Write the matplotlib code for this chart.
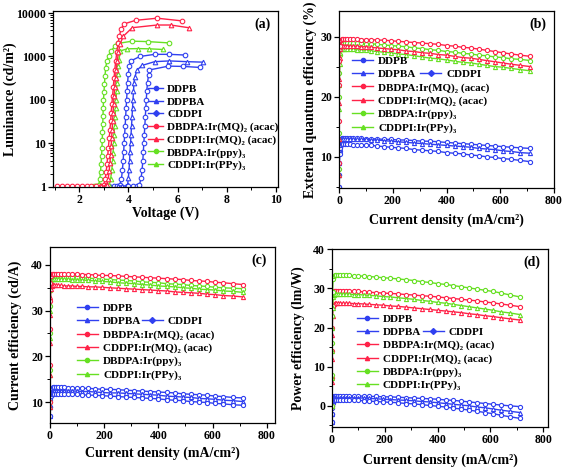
import matplotlib
matplotlib.use('Agg')
import matplotlib.pyplot as plt
from matplotlib.lines import Line2D
from matplotlib.ticker import MultipleLocator, FixedLocator, NullFormatter

plt.rcParams['font.family'] = ['Liberation Serif', 'DejaVu Serif']
plt.rcParams['font.weight'] = 'bold'
plt.rcParams['axes.labelweight'] = 'bold'

RED = '#ff2248'
GREEN = '#66e022'
BLUE = '#3040f0'

labels = ['DDPB', 'DDPBA', 'CDDPI',
          'DBDPA:Ir(MQ)\u2082 (acac)', 'CDDPI:Ir(MQ)\u2082 (acac)',
          'DBDPA:Ir(ppy)\u2083', 'CDDPI:Ir(PPy)\u2083']
colors = [BLUE, BLUE, BLUE, RED, RED, GREEN, GREEN]
markers = ['o', '^', 'D', 'o', '^', 'o', '^']

# ---- (a) luminance vs voltage ----
v_ddpb = [3.2, 3.4, 3.55, 3.65, 3.72, 3.76, 3.79, 3.81, 3.83, 3.85, 3.87, 3.89, 3.91, 3.93, 3.95, 3.97, 4.00, 4.04, 4.10, 4.47, 5.07, 5.67, 6.30]
lum_ddpb = [1.05, 1.05, 1.05, 1.1, 1.5, 2.5, 4, 6.5, 10, 16, 25, 40, 65, 100, 160, 250, 400, 600, 790, 1000, 1120, 1120, 1080]
v_ddpba = [3.6, 3.75, 3.9, 3.97, 4.00, 4.03, 4.05, 4.07, 4.09, 4.11, 4.13, 4.15, 4.17, 4.19, 4.21, 4.23, 4.27, 4.35, 4.55, 5.07, 5.67, 6.37, 7.05]
lum_ddpba = [1.05, 1.05, 1.05, 1.1, 1.6, 2.5, 4, 6.5, 10, 16, 25, 40, 65, 100, 160, 250, 345, 480, 620, 760, 790, 760, 740]
v_cddpi = [4.0, 4.2, 4.35, 4.45, 4.52, 4.56, 4.59, 4.61, 4.63, 4.65, 4.67, 4.69, 4.71, 4.73, 4.75, 4.78, 4.82, 4.86, 5.63, 6.23, 6.91]
lum_cddpi = [1.05, 1.05, 1.05, 1.1, 1.6, 2.5, 4, 6.5, 10, 16, 25, 40, 65, 100, 160, 250, 370, 490, 600, 590, 560]
v_mq_dbdpa = [1.1, 1.3, 1.5, 1.7, 1.9, 2.1, 2.3, 2.5, 2.7, 2.9, 3.00, 3.06, 3.10, 3.13, 3.16, 3.19, 3.22, 3.25, 3.28, 3.30, 3.33, 3.36, 3.39, 3.42, 3.45, 3.49, 3.53, 3.58, 3.64, 3.70, 3.82, 4.30, 5.17, 6.18]
lum_mq_dbdpa = [1.05, 1.05, 1.05, 1.05, 1.05, 1.05, 1.05, 1.05, 1.05, 1.05, 1.1, 1.5, 2.2, 3.3, 5, 8, 13, 20, 32, 50, 80, 125, 200, 320, 500, 800, 1250, 2000, 3000, 4200, 5600, 6800, 7600, 6600]
v_mq_cddpi = [2.9, 3.05, 3.12, 3.18, 3.22, 3.25, 3.28, 3.30, 3.32, 3.34, 3.36, 3.38, 3.40, 3.42, 3.45, 3.48, 3.51, 3.55, 3.60, 3.66, 3.79, 4.16, 5.17, 5.72, 6.45]
lum_mq_cddpi = [1.05, 1.05, 1.1, 1.5, 2.3, 3.5, 5.5, 8.5, 13, 20, 32, 50, 80, 125, 200, 320, 500, 800, 1250, 1900, 2900, 4600, 5300, 5300, 4600]
v_ppy_dbdpa = [2.6, 2.7, 2.80, 2.84, 2.87, 2.89, 2.91, 2.93, 2.94, 2.95, 2.96, 2.97, 2.98, 2.99, 3.01, 3.03, 3.05, 3.08, 3.13, 3.20, 3.30, 3.45, 3.58, 4.16, 4.79, 5.67]
lum_ppy_dbdpa = [1.05, 1.05, 1.1, 1.5, 2.2, 3.3, 5, 8, 12, 18, 28, 42, 65, 100, 150, 230, 350, 550, 800, 1050, 1350, 1700, 2000, 2250, 2200, 2050]
v_ppy_cddpi = [3.0, 3.1, 3.20, 3.28, 3.33, 3.36, 3.38, 3.40, 3.42, 3.44, 3.46, 3.48, 3.50, 3.52, 3.54, 3.56, 3.58, 3.62, 3.67, 3.95, 4.41, 4.86, 5.39]
lum_ppy_cddpi = [1.05, 1.05, 1.1, 1.5, 2.5, 4, 6, 10, 16, 25, 40, 65, 100, 160, 250, 400, 600, 850, 1340, 1500, 1520, 1500, 1450]

# ---- shared current density grid (mA/cm2) for (b), (c), (d) ----
J = [0.05, 0.15, 0.3, 0.6, 1, 2, 4, 7,
     11, 16, 22, 30, 40, 52, 66, 82, 100, 120,
     142, 166, 192, 220, 250, 280, 310, 340, 370, 400,
     430, 460, 490, 520, 550, 580, 610, 640, 675, 712]

# (b) EQE (%)
eqe_ddpb = [1, 3, 5, 7, 9, 11, 12.3, 12.9,
            13.1, 13.1, 13.1, 13.1, 13.1, 13.1, 13.1, 13.1, 13.0, 13.0,
            13.0, 12.9, 12.9, 12.8, 12.8, 12.7, 12.6, 12.6, 12.5, 12.4,
            12.3, 12.2, 12.1, 12.0, 11.9, 11.8, 11.7, 11.6, 11.5, 11.4]
eqe_ddpba = [1, 3, 5, 7, 9, 11, 12.2, 12.8,
             13.0, 13.0, 13.0, 13.0, 13.0, 13.0, 12.9, 12.9, 12.9, 12.8,
             12.8, 12.7, 12.6, 12.5, 12.4, 12.3, 12.2, 12.1, 12.0, 11.9,
             11.8, 11.7, 11.6, 11.4, 11.3, 11.2, 11.0, 10.9, 10.7, 10.6]
eqe_cddpi = [1, 3, 5, 7, 9, 10.5, 11.5, 12.0,
             12.1, 12.1, 12.1, 12.1, 12.1, 12.0, 12.0, 12.0, 11.9, 11.9,
             11.8, 11.7, 11.6, 11.5, 11.4, 11.2, 11.1, 11.0, 10.9, 10.7,
             10.6, 10.5, 10.3, 10.2, 10.0, 9.9, 9.7, 9.6, 9.4, 9.2]
eqe_mq_dbdpa = [3, 9, 16, 22, 26, 28.5, 29.3, 29.5,
                29.6, 29.6, 29.6, 29.6, 29.6, 29.6, 29.6, 29.5, 29.5, 29.5,
                29.4, 29.4, 29.3, 29.2, 29.1, 29.0, 28.9, 28.8, 28.7, 28.5,
                28.4, 28.2, 28.1, 27.9, 27.7, 27.5, 27.3, 27.1, 26.9, 26.7]
eqe_mq_cddpi = [2, 7, 13, 19, 23, 26.5, 28, 28.4,
                28.5, 28.5, 28.5, 28.5, 28.4, 28.4, 28.4, 28.3, 28.3, 28.2,
                28.1, 28.0, 27.9, 27.8, 27.6, 27.5, 27.3, 27.2, 27.0, 26.9,
                26.7, 26.5, 26.4, 26.2, 26.0, 25.8, 25.6, 25.4, 25.2, 25.0]
eqe_ppy_dbdpa = [2, 8, 14, 20, 24, 27, 28.5, 28.9,
                 29.0, 29.0, 29.0, 29.0, 29.0, 28.9, 28.9, 28.9, 28.8, 28.8,
                 28.7, 28.6, 28.5, 28.4, 28.3, 28.1, 28.0, 27.8, 27.7, 27.5,
                 27.4, 27.2, 27.1, 26.9, 26.8, 26.6, 26.5, 26.3, 26.2, 26.0]
eqe_ppy_cddpi = [2, 7, 13, 18, 22, 25.5, 27.3, 27.9,
                 28.0, 28.0, 28.0, 28.0, 27.9, 27.9, 27.8, 27.8, 27.7, 27.6,
                 27.5, 27.4, 27.3, 27.1, 27.0, 26.8, 26.6, 26.4, 26.3, 26.1,
                 25.9, 25.7, 25.6, 25.4, 25.2, 25.0, 24.9, 24.7, 24.5, 24.3]

# (c) current efficiency (cd/A)
ce_ddpb = [1, 3, 5, 7, 9, 11, 12.5, 13.0,
           13.2, 13.2, 13.2, 13.2, 13.2, 13.2, 13.1, 13.1, 13.1, 13.0,
           13.0, 12.9, 12.8, 12.8, 12.7, 12.6, 12.5, 12.4, 12.3, 12.2,
           12.1, 12.0, 11.8, 11.7, 11.6, 11.5, 11.3, 11.2, 11.0, 10.9]
ce_ddpba = [1, 3, 5, 7, 9, 10.5, 12, 12.4,
            12.5, 12.5, 12.5, 12.5, 12.5, 12.5, 12.4, 12.4, 12.4, 12.3,
            12.3, 12.2, 12.1, 12.0, 12.0, 11.9, 11.8, 11.7, 11.6, 11.5,
            11.3, 11.2, 11.1, 11.0, 10.8, 10.7, 10.6, 10.4, 10.3, 10.1]
ce_cddpi = [1, 3, 5, 7, 9, 10.5, 11.4, 11.7,
            11.8, 11.8, 11.8, 11.8, 11.8, 11.8, 11.7, 11.7, 11.7, 11.6,
            11.5, 11.5, 11.4, 11.3, 11.2, 11.1, 11.0, 10.9, 10.8, 10.7,
            10.5, 10.4, 10.3, 10.1, 10.0, 9.9, 9.7, 9.6, 9.4, 9.3]
ce_mq_dbdpa = [3, 10, 18, 26, 32, 36, 37.6, 38.0,
               38.1, 38.1, 38.1, 38.1, 38.1, 38.1, 38.0, 38.0, 38.0, 37.9,
               37.9, 37.8, 37.7, 37.7, 37.6, 37.5, 37.4, 37.3, 37.2, 37.1,
               37.0, 36.9, 36.8, 36.6, 36.5, 36.4, 36.2, 36.1, 35.9, 35.7]
ce_mq_cddpi = [3, 9, 16, 23, 29, 33, 34.8, 35.3,
               35.5, 35.5, 35.5, 35.5, 35.5, 35.4, 35.4, 35.4, 35.3, 35.3,
               35.2, 35.2, 35.1, 35.0, 34.9, 34.8, 34.7, 34.6, 34.5, 34.4,
               34.3, 34.1, 34.0, 33.9, 33.8, 33.6, 33.5, 33.3, 33.2, 33.0]
ce_ppy_dbdpa = [3, 10, 17, 25, 31, 35, 36.9, 37.4,
                37.5, 37.5, 37.5, 37.5, 37.5, 37.4, 37.4, 37.3, 37.3, 37.2,
                37.1, 37.0, 36.9, 36.8, 36.7, 36.6, 36.5, 36.3, 36.2, 36.1,
                35.9, 35.8, 35.7, 35.5, 35.4, 35.3, 35.1, 35.0, 34.9, 34.8]
ce_ppy_cddpi = [3, 9, 16, 24, 30, 34.5, 36.4, 36.9,
                37.0, 37.0, 37.0, 37.0, 36.9, 36.9, 36.9, 36.8, 36.7, 36.7,
                36.6, 36.5, 36.4, 36.3, 36.1, 36.0, 35.9, 35.7, 35.6, 35.4,
                35.3, 35.2, 35.0, 34.9, 34.7, 34.6, 34.5, 34.3, 34.2, 34.0]

# (d) power efficiency (lm/W)
pe_ddpb = [-8, -6, -4, -2, 0, 1.5, 2.3, 2.5,
           2.6, 2.6, 2.6, 2.6, 2.6, 2.6, 2.6, 2.5, 2.5, 2.5,
           2.4, 2.4, 2.3, 2.3, 2.2, 2.1, 2.0, 1.9, 1.8, 1.7,
           1.5, 1.4, 1.2, 1.0, 0.8, 0.6, 0.4, 0.2, 0.0, -0.2]
pe_ddpba = [-8, -6, -4, -2, 0, 1.2, 1.8, 2.0,
            2.1, 2.1, 2.1, 2.1, 2.1, 2.1, 2.1, 2.0, 2.0, 2.0,
            1.9, 1.8, 1.7, 1.6, 1.5, 1.4, 1.3, 1.1, 1.0, 0.8,
            0.6, 0.4, 0.2, 0.0, -0.3, -0.5, -0.8, -1.1, -1.4, -1.7]
pe_cddpi = [-8, -6, -4, -2, -0.5, 0.8, 1.3, 1.5,
            1.5, 1.5, 1.5, 1.5, 1.5, 1.5, 1.5, 1.4, 1.4, 1.3,
            1.2, 1.1, 1.0, 0.9, 0.8, 0.6, 0.5, 0.3, 0.1, -0.1,
            -0.3, -0.6, -0.8, -1.1, -1.4, -1.7, -2.0, -2.4, -2.8, -3.2]
pe_mq_dbdpa = [-8, 0, 7, 14, 20, 25.5, 28.5, 29.2,
               29.4, 29.4, 29.4, 29.4, 29.3, 29.3, 29.3, 29.2, 29.2, 29.1,
               29.0, 28.9, 28.8, 28.7, 28.6, 28.4, 28.3, 28.1, 28.0, 27.8,
               27.6, 27.4, 27.2, 27.0, 26.8, 26.5, 26.3, 26.0, 25.7, 25.3]
pe_mq_cddpi = [-8, 0, 6, 12, 18, 23, 25.6, 26.1,
               26.3, 26.3, 26.3, 26.3, 26.2, 26.2, 26.2, 26.1, 26.1, 26.0,
               25.9, 25.8, 25.7, 25.5, 25.4, 25.2, 25.0, 24.8, 24.6, 24.4,
               24.2, 24.0, 23.8, 23.5, 23.3, 23.0, 22.8, 22.5, 22.2, 21.9]
pe_ppy_dbdpa = [-8, 0, 8, 16, 23, 29, 32.3, 33.2,
                33.4, 33.4, 33.4, 33.4, 33.4, 33.3, 33.3, 33.2, 33.2, 33.1,
                33.0, 32.9, 32.7, 32.6, 32.4, 32.2, 32.0, 31.7, 31.5, 31.2,
                31.0, 30.7, 30.4, 30.1, 29.8, 29.5, 29.2, 28.8, 28.3, 27.8]
pe_ppy_cddpi = [-8, 0, 7, 14, 20, 25, 27.8, 28.4,
                28.6, 28.6, 28.6, 28.6, 28.6, 28.5, 28.5, 28.4, 28.4, 28.3,
                28.2, 28.1, 27.9, 27.8, 27.6, 27.4, 27.2, 26.9, 26.7, 26.4,
                26.2, 25.9, 25.6, 25.3, 25.0, 24.7, 24.4, 24.0, 23.7, 23.3]


def style_axis(ax, xlabel, ylabel, tag, xl_y, yl_x):
    ax.set_xlabel(xlabel, fontsize=10)
    ax.set_ylabel(ylabel, fontsize=10)
    ax.xaxis.set_label_coords(0.5, xl_y)
    ax.yaxis.set_label_coords(yl_x, 0.5)
    ax.xaxis.label.set_va('center')
    ax.yaxis.label.set_va('center')
    ax.tick_params(which='both', direction='out', top=False, right=False, labelsize=8.5, pad=1.5)
    ax.tick_params(which='major', length=3.5, width=0.9)
    ax.tick_params(which='minor', length=2, width=0.7)
    for s in ax.spines.values():
        s.set_linewidth(0.9)
    ax.text(0.965, 0.925, tag, transform=ax.transAxes, ha='right', va='center',
            fontsize=10, fontweight='bold')


def add_legend(ax, x, y, split, x2=None):
    hs = [Line2D([], [], color=c, marker=m, markersize=3, lw=1.0) for c, m in zip(colors, markers)]
    if not split:
        ax.legend(hs, labels, loc='upper left', bbox_to_anchor=(x, y), frameon=False,
                  fontsize=8, handlelength=1.4, handletextpad=0.35, labelspacing=0.25,
                  borderpad=0, borderaxespad=0)
        return
    main_h = hs[:2] + hs[3:]
    main_l = labels[:2] + labels[3:]
    kw = dict(loc='upper left', frameon=False, fontsize=8, handlelength=1.9,
              handletextpad=0.45, labelspacing=0.3, borderpad=0, borderaxespad=0)
    leg = ax.legend(main_h, main_l, bbox_to_anchor=(x, y), **kw)
    ax.add_artist(leg)
    ghost = Line2D([], [], color='none')
    leg2 = ax.legend([ghost, hs[2]], ['DDPB', labels[2]], bbox_to_anchor=(x2, y), **kw)
    leg2.get_texts()[0].set_visible(False)


def plot_eff(ax, ys, order):
    for i in order:
        ax.plot(J, ys[i], color=colors[i], marker=markers[i] if markers[i] != 'D' else 'o',
                markersize=3, mfc='white', mew=0.8, lw=1.0)


fig = plt.figure(figsize=(5.67, 4.68), dpi=100)

# (a)
ax = fig.add_axes([0.094, 0.600, 0.397, 0.376])
lum_v = [v_ddpb, v_ddpba, v_cddpi, v_mq_dbdpa, v_mq_cddpi, v_ppy_dbdpa, v_ppy_cddpi]
lum_y = [lum_ddpb, lum_ddpba, lum_cddpi, lum_mq_dbdpa, lum_mq_cddpi, lum_ppy_dbdpa, lum_ppy_cddpi]
for i in [0, 1, 2, 5, 6, 3, 4]:
    ax.plot(lum_v[i], lum_y[i], color=colors[i], marker=markers[i] if markers[i] != 'D' else 'o',
            markersize=3.3, mfc='white', mew=0.8, lw=1.0)
ax.set_yscale('log')
ax.set_xlim(0.95, 10.1)
ax.set_ylim(0.98, 11000)
ax.xaxis.set_major_locator(FixedLocator([2, 4, 6, 8, 10]))
ax.xaxis.set_minor_locator(MultipleLocator(1))
ax.yaxis.set_major_locator(FixedLocator([1, 10, 100, 1000, 10000]))
ax.set_yticklabels(['1', '10', '100', '1000', '10000'])
ax.yaxis.set_minor_formatter(NullFormatter())
style_axis(ax, 'Voltage (V)', 'Luminance (cd/m\u00b2)', '(a)', -0.148, -0.19)
add_legend(ax, 0.42, 0.585, False)

# (b)
ax = fig.add_axes([0.598, 0.598, 0.379, 0.378])
eqe = [eqe_ddpb, eqe_ddpba, eqe_cddpi, eqe_mq_dbdpa, eqe_mq_cddpi, eqe_ppy_dbdpa, eqe_ppy_cddpi]
plot_eff(ax, eqe, [0, 1, 2, 5, 6, 4, 3])
ax.set_xlim(0, 800)
ax.set_ylim(4.8, 34.2)
ax.xaxis.set_major_locator(MultipleLocator(200))
ax.xaxis.set_minor_locator(MultipleLocator(100))
ax.yaxis.set_major_locator(MultipleLocator(10))
ax.yaxis.set_minor_locator(MultipleLocator(5))
style_axis(ax, 'Current density (mA/cm\u00b2)', 'External quantum efficiency (%)', '(b)', -0.18, -0.135)
add_legend(ax, 0.06, 0.745, True, 0.378)

# (c)
ax = fig.add_axes([0.088, 0.096, 0.397, 0.376])
ce = [ce_ddpb, ce_ddpba, ce_cddpi, ce_mq_dbdpa, ce_mq_cddpi, ce_ppy_dbdpa, ce_ppy_cddpi]
plot_eff(ax, ce, [0, 1, 2, 5, 6, 4, 3])
ax.set_xlim(0, 830)
ax.set_ylim(5.4, 43.9)
ax.xaxis.set_major_locator(MultipleLocator(200))
ax.xaxis.set_minor_locator(MultipleLocator(100))
ax.yaxis.set_major_locator(MultipleLocator(10))
ax.yaxis.set_minor_locator(MultipleLocator(5))
style_axis(ax, 'Current density (mA/cm\u00b2)', 'Current efficiency (cd/A)', '(c)', -0.17, -0.156)
add_legend(ax, 0.12, 0.68, True, 0.408)

# (d)
ax = fig.add_axes([0.5855, 0.0876, 0.381, 0.380])
pe = [pe_ddpb, pe_ddpba, pe_cddpi, pe_mq_dbdpa, pe_mq_cddpi, pe_ppy_dbdpa, pe_ppy_cddpi]
plot_eff(ax, pe, [0, 1, 2, 4, 3, 6, 5])
ax.set_xlim(0, 818)
ax.set_ylim(-5.4, 40)
ax.xaxis.set_major_locator(MultipleLocator(200))
ax.xaxis.set_minor_locator(MultipleLocator(100))
ax.yaxis.set_major_locator(MultipleLocator(10))
ax.yaxis.set_minor_locator(MultipleLocator(5))
style_axis(ax, 'Current density (mA/cm\u00b2)', 'Power efficiency (lm/W)', '(d)', -0.185, -0.157)
add_legend(ax, 0.115, 0.635, True, 0.42)

fig.savefig('out.png', dpi=100)
